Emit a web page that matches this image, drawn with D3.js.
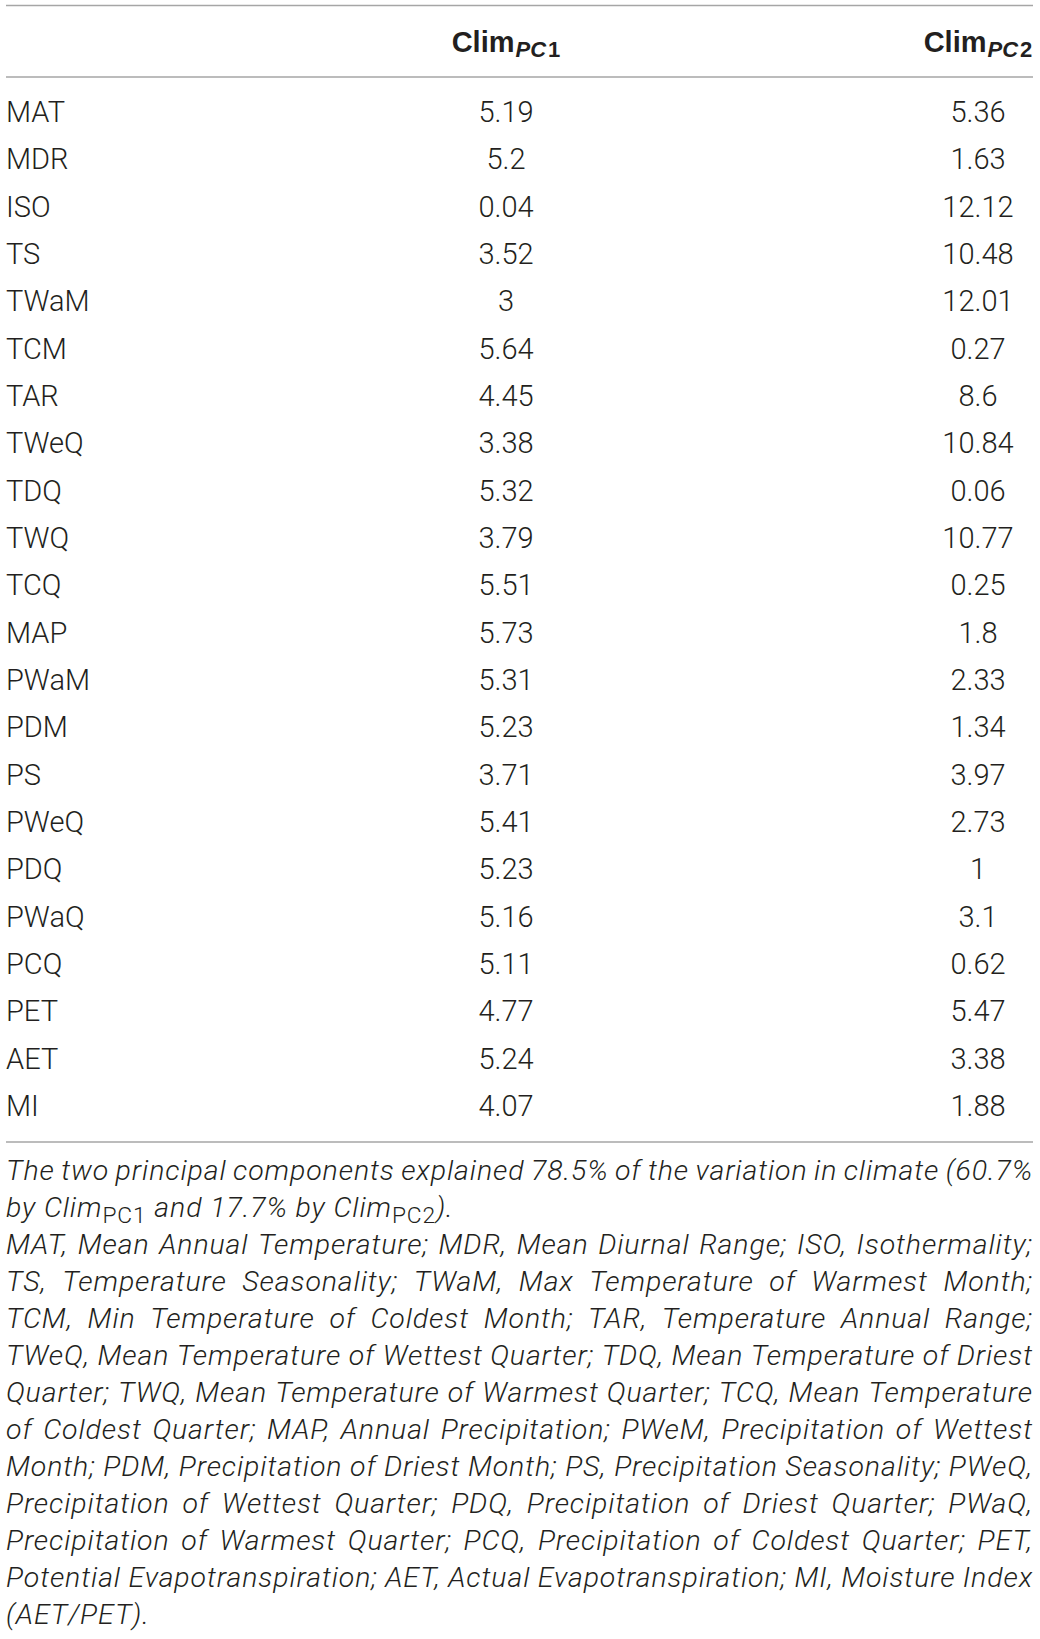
<!DOCTYPE html>
<html>
<head>
<meta charset="utf-8">
<script src="https://cdn.jsdelivr.net/npm/d3@7"></script>
<style>
  html, body { margin: 0; padding: 0; background: #fff; }
  svg { display: block; }
</style>
</head>
<body>
<svg id="chart" width="1040" height="1639"></svg>
<script>
const variables = ["MAT","MDR","ISO","TS","TWaM","TCM","TAR","TWeQ","TDQ","TWQ","TCQ","MAP","PWaM","PDM","PS","PWeQ","PDQ","PWaQ","PCQ","PET","AET","MI"];
const climPC1 = [5.19,5.2,0.04,3.52,3,5.64,4.45,3.38,5.32,3.79,5.51,5.73,5.31,5.23,3.71,5.41,5.23,5.16,5.11,4.77,5.24,4.07];
const climPC2 = [5.36,1.63,12.12,10.48,12.01,0.27,8.6,10.84,0.06,10.77,0.25,1.8,2.33,1.34,3.97,2.73,1,3.1,0.62,5.47,3.38,1.88];
const columns = ["variable","pc1","pc2"];
const headerLabels = [{main:"", sub:""},{main:"Clim", sub:"PC1"},{main:"Clim", sub:"PC2"}];
const footnoteLines = [
  "The two principal components explained 78.5% of the variation in climate (60.7%",
  "by Clim_{PC1} and 17.7% by Clim_{PC2}).",
  "MAT, Mean Annual Temperature; MDR, Mean Diurnal Range; ISO, Isothermality;",
  "TS, Temperature Seasonality; TWaM, Max Temperature of Warmest Month;",
  "TCM, Min Temperature of Coldest Month; TAR, Temperature Annual Range;",
  "TWeQ, Mean Temperature of Wettest Quarter; TDQ, Mean Temperature of Driest",
  "Quarter; TWQ, Mean Temperature of Warmest Quarter; TCQ, Mean Temperature",
  "of Coldest Quarter; MAP, Annual Precipitation; PWeM, Precipitation of Wettest",
  "Month; PDM, Precipitation of Driest Month; PS, Precipitation Seasonality; PWeQ,",
  "Precipitation of Wettest Quarter; PDQ, Precipitation of Driest Quarter; PWaQ,",
  "Precipitation of Warmest Quarter; PCQ, Precipitation of Coldest Quarter; PET,",
  "Potential Evapotranspiration; AET, Actual Evapotranspiration; MI, Moisture Index",
  "(AET/PET)."
];
const justifiedLines = [true,false,true,true,true,true,true,true,true,true,true,true,false];

const svg = d3.select("#chart");
const FONT = "Roboto, 'Liberation Sans', sans-serif";
const TEXT = "#231f20";
const RULE = "#a6a6a6";
const left = 6, right = 1033;

const x = d3.scaleOrdinal().domain(columns).range([left, 506, 978]);
const y = d3.scalePoint().domain(variables).range([122, 1116]);

// rules
const rules = [5.5, 77, 1142];
svg.selectAll("line.rule").data(rules).join("line")
  .attr("class","rule")
  .attr("x1", left).attr("x2", right)
  .attr("y1", d => d).attr("y2", d => d)
  .attr("stroke", RULE).attr("stroke-width", 1.6);

// header
const header = svg.selectAll("text.header").data(columns.slice(1)).join("text")
  .attr("class","header")
  .attr("x", d => x(d)).attr("y", 52)
  .attr("text-anchor","middle")
  .attr("font-family", "'Liberation Sans', Arial, sans-serif")
  .attr("font-weight", 700)
  .attr("font-size", 29)
  .attr("fill", TEXT);
header.each(function(d, i) {
  const lab = headerLabels[i + 1];
  const t = d3.select(this);
  t.append("tspan").text(lab.main);
  t.append("tspan").attr("font-size", 22).attr("font-style","italic").attr("dy", 5).attr("dx", 1).text(lab.sub.slice(0, 2));
  t.append("tspan").attr("font-size", 22).attr("dx", 2).text(lab.sub.slice(2));
});

// body rows
const rows = svg.selectAll("g.row").data(variables.map((v, i) => ({v, a: climPC1[i], b: climPC2[i]}))).join("g")
  .attr("class","row")
  .attr("transform", d => `translate(0,${y(d.v)})`);
const cellStyle = sel => sel
  .attr("font-family", FONT)
  .attr("font-weight", 300)
  .attr("font-size", 29)
  .attr("fill", TEXT);
rows.append("text").call(cellStyle).attr("x", x("variable")).attr("text-anchor","start").text(d => d.v);
rows.append("text").call(cellStyle).attr("x", x("pc1")).attr("text-anchor","middle").text(d => String(d.a));
rows.append("text").call(cellStyle).attr("x", x("pc2")).attr("text-anchor","middle").text(d => String(d.b));

// footnote
const fy = d3.scaleLinear().domain([0, 12]).range([1180, 1624]);
const FN_SIZE = 28.5;
const FN_LS = 0.9;
function parseWord(w) {
  const segs = [];
  const re = /_\{([^}]*)\}/g;
  let last = 0, m;
  while ((m = re.exec(w)) !== null) {
    if (m.index > last) segs.push({t: w.slice(last, m.index), sub: false});
    segs.push({t: m[1], sub: true});
    last = re.lastIndex;
  }
  if (last < w.length) segs.push({t: w.slice(last), sub: false});
  return segs;
}
function styleFn(sel) {
  return sel.attr("font-family", FONT).attr("font-weight", 300)
    .attr("font-style","italic").attr("font-size", FN_SIZE).attr("fill", TEXT)
    .attr("letter-spacing", FN_LS);
}
// measure a space
const probe = svg.append("text").call(styleFn).text("a a");
const probe2 = svg.append("text").call(styleFn).text("aa");
const spaceW = probe.node().getComputedTextLength() - probe2.node().getComputedTextLength();
probe.remove(); probe2.remove();

footnoteLines.forEach((line, li) => {
  const g = svg.append("g").attr("class","fn-line");
  const words = line.split(" ");
  const nodes = words.map(w => {
    const t = g.append("text").call(styleFn).attr("y", fy(li));
    let prevSub = false;
    parseWord(w).forEach(s => {
      const ts = t.append("tspan").text(s.t);
      if (s.sub) {
        ts.attr("font-style","normal").attr("font-size", FN_SIZE * 0.8).attr("dy", 6);
        prevSub = true;
      } else if (prevSub) {
        ts.attr("dy", -6);
        prevSub = false;
      }
    });
    return t;
  });
  const widths = nodes.map(n => n.node().getComputedTextLength());
  const total = d3.sum(widths);
  const gap = (justifiedLines[li] && words.length > 1) ? (right - left - total) / (words.length - 1) : spaceW;
  let cx = left;
  nodes.forEach((n, i) => { n.attr("x", cx); cx += widths[i] + gap; });
});
</script>
</body>
</html>
